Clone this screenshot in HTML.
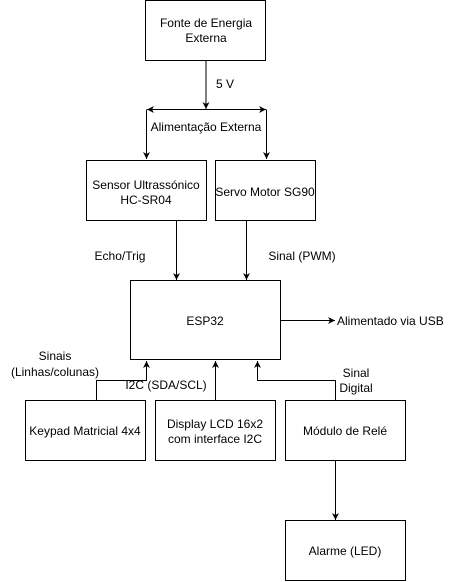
<!DOCTYPE html>
<html><head><meta charset="utf-8"><style>
html,body{margin:0;padding:0;background:#fff;}
svg{display:block;}
text{font-family:"Liberation Sans",sans-serif;font-size:12px;fill:#000;}
</style></head><body>
<svg width="456" height="582" viewBox="0 0 456 582" xmlns="http://www.w3.org/2000/svg">
<defs>
<marker id="a" markerWidth="8" markerHeight="8" refX="7" refY="4" orient="auto" markerUnits="userSpaceOnUse">
<path d="M0,0.5 L7,4 L0,7.5 L2,4 Z" fill="#000"/></marker>
</defs>
<g fill="#fff" stroke="#000" stroke-width="1">
<rect x="145.5" y="0.5" width="120" height="60"/>
<rect x="86.5" y="160.5" width="120" height="60"/>
<rect x="215.5" y="160.5" width="100" height="60"/>
<rect x="130.5" y="280.5" width="150" height="79"/>
<rect x="25.5" y="400.5" width="120" height="60"/>
<rect x="155.5" y="400.5" width="120" height="60"/>
<rect x="285.5" y="400.5" width="120" height="60"/>
<rect x="285.5" y="520.5" width="120" height="60"/>
</g>
<g fill="none" stroke="#000" stroke-width="1">
<line x1="206" y1="61" x2="206" y2="109" marker-end="url(#a)"/>
<line x1="206" y1="109.5" x2="147" y2="109.5" marker-end="url(#a)"/>
<line x1="206" y1="109.5" x2="266" y2="109.5" marker-end="url(#a)"/>
<polyline points="147,110 146.5,110 146.5,159" marker-end="url(#a)"/>
<polyline points="266,110 266.5,110 266.5,159" marker-end="url(#a)"/>
<line x1="176.5" y1="221" x2="176.5" y2="280" marker-end="url(#a)"/>
<line x1="246.5" y1="221" x2="246.5" y2="280" marker-end="url(#a)"/>
<line x1="281" y1="320.5" x2="335" y2="320.5" marker-end="url(#a)"/>
<polyline points="96.5,400 96.5,380.5 146.5,380.5 146.5,361" marker-end="url(#a)"/>
<line x1="215.5" y1="400" x2="215.5" y2="361" marker-end="url(#a)"/>
<polyline points="335.5,400 335.5,380.5 257.5,380.5 257.5,361" marker-end="url(#a)"/>
<line x1="335.5" y1="461" x2="335.5" y2="520" marker-end="url(#a)"/>
</g>
<g text-anchor="middle">
<text x="206" y="27">Fonte de Energia</text>
<text x="206" y="42">Externa</text>
<text x="146" y="189">Sensor Ultrassónico</text>
<text x="146" y="204">HC-SR04</text>
<text x="265" y="196">Servo Motor SG90</text>
<text x="205" y="325">ESP32</text>
<text x="85" y="435">Keypad Matricial 4x4</text>
<text x="215" y="428">Display LCD 16x2</text>
<text x="215" y="443">com interface I2C</text>
<text x="345" y="435">Módulo de Relé</text>
<text x="345" y="555">Alarme (LED)</text>
<text x="225" y="88">5 V</text>
<text x="206" y="131">Alimentação Externa</text>
<text x="120" y="260">Echo/Trig</text>
<text x="302" y="260">Sinal (PWM)</text>
<text x="55" y="360">Sinais</text>
<text x="55" y="376">(Linhas/colunas)</text>
<text x="166" y="389">I2C (SDA/SCL)</text>
<text x="356" y="377">Sinal</text>
<text x="356" y="392">Digital</text>
</g>
<text x="337" y="325">Alimentado via USB</text>
</svg>
</body></html>
